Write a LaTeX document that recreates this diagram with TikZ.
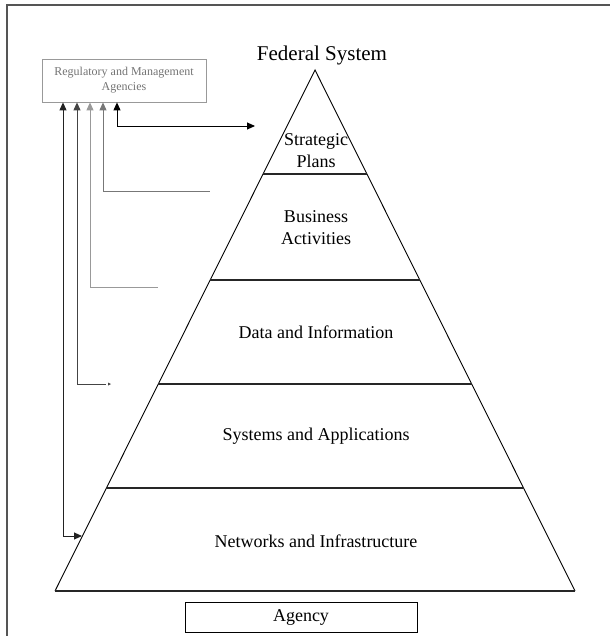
\documentclass[tikz,border=0pt]{standalone}
\usepackage{fontspec}
\setmainfont{Liberation Serif}
\usetikzlibrary{arrows.meta}
\definecolor{frm}{HTML}{555555}
\definecolor{gA}{HTML}{222222}
\definecolor{gB}{HTML}{444444}
\definecolor{gC}{HTML}{999999}
\definecolor{gD}{HTML}{777777}
\tikzset{
  layertxt/.style={font=\fontsize{18}{22}\selectfont, align=center, inner sep=0pt},
  pyr/.style={draw=black, line width=0.9pt},
  lvl/.style={draw=black!85, line width=1.3pt},
  conn/.style={line width=0.9pt},
  bitip/.style={{Triangle[length=8pt,width=7pt]}-{Triangle[length=8pt,width=7pt]}},
}
\begin{document}
\begin{tikzpicture}[x=1pt,y=-1pt]
\useasboundingbox (0,0) rectangle (610,636);
% outer frame (clipped)
\draw[frm, line width=1.8pt] (7,636) -- (7,5) -- (610,5);

% pyramid
\coordinate (apex) at (315,70);
\coordinate (bl) at (55,591);
\coordinate (br) at (575,591);
\draw[pyr] (bl) -- (apex) -- (br);
\draw[lvl] (bl) -- (br);
\coordinate (l1a) at (263,174); \coordinate (l1b) at (367,174);
\coordinate (l2a) at (210,280); \coordinate (l2b) at (420,280);
\coordinate (l3a) at (158,384); \coordinate (l3b) at (472,384);
\coordinate (l4a) at (106,488); \coordinate (l4b) at (524,488);
\draw[lvl] (l1a) -- (l1b);
\draw[lvl] (l2a) -- (l2b);
\draw[lvl] (l3a) -- (l3b);
\draw[lvl] (l4a) -- (l4b);

% texts
\node[font=\fontsize{21}{24}\selectfont, inner sep=0pt] (fed) at (322,55) {Federal System};
\node[layertxt] (sp) at (316,151) {Strategic\\Plans};
\node[layertxt] (ba) at (316,228) {Business\\Activities};
\node[layertxt] (di) at (316,332) {Data and Information};
\node[layertxt] (sa) at (316,436) {Systems and Applications};
\node[layertxt] (ni) at (316,541) {Networks and Infrastructure};

% regulatory box
\node[draw=gray!80, line width=0.8pt, minimum width=164pt, minimum height=43pt, inner sep=0pt,
      text=gray!90!black, font=\fontsize{12}{15}\selectfont, align=center] (reg) at (124,80.5)
      {Regulatory and Management\\Agencies};

% agency box
\node[draw=black, line width=0.9pt, minimum width=232pt, minimum height=30pt, inner sep=0pt,
      font=\fontsize{18}{22}\selectfont] (ag) at (301,617) {Agency};

% connectors
\coordinate (e5) at (255,126);
\coordinate (e4) at (210,191);
\coordinate (e3) at (158,287);
\coordinate (e2) at (106,384);
\coordinate (e2t) at (111,384);
\coordinate (e1) at (82,536);

\draw[conn, black, bitip] (reg.south -| 117,0) -- (117,126) -- (e5);
\draw[conn, gD, {Triangle[length=8pt,width=7pt]}-] (reg.south -| 103,0) -- (103,191) -- (e4);
\draw[conn, gC, {Triangle[length=8pt,width=7pt]}-] (reg.south -| 90,0) -- (90,287) -- (e3);
\draw[conn, gB, {Triangle[length=8pt,width=7pt]}-] (reg.south -| 77,0) -- (77,384) -- (e2);
\fill[gB] (e2t) -- ++(-3,-1.5) -- ++(0,3) -- cycle;
\draw[conn, gA, bitip] (reg.south -| 63,0) -- (63,536) -- (e1);
\end{tikzpicture}
\end{document}
